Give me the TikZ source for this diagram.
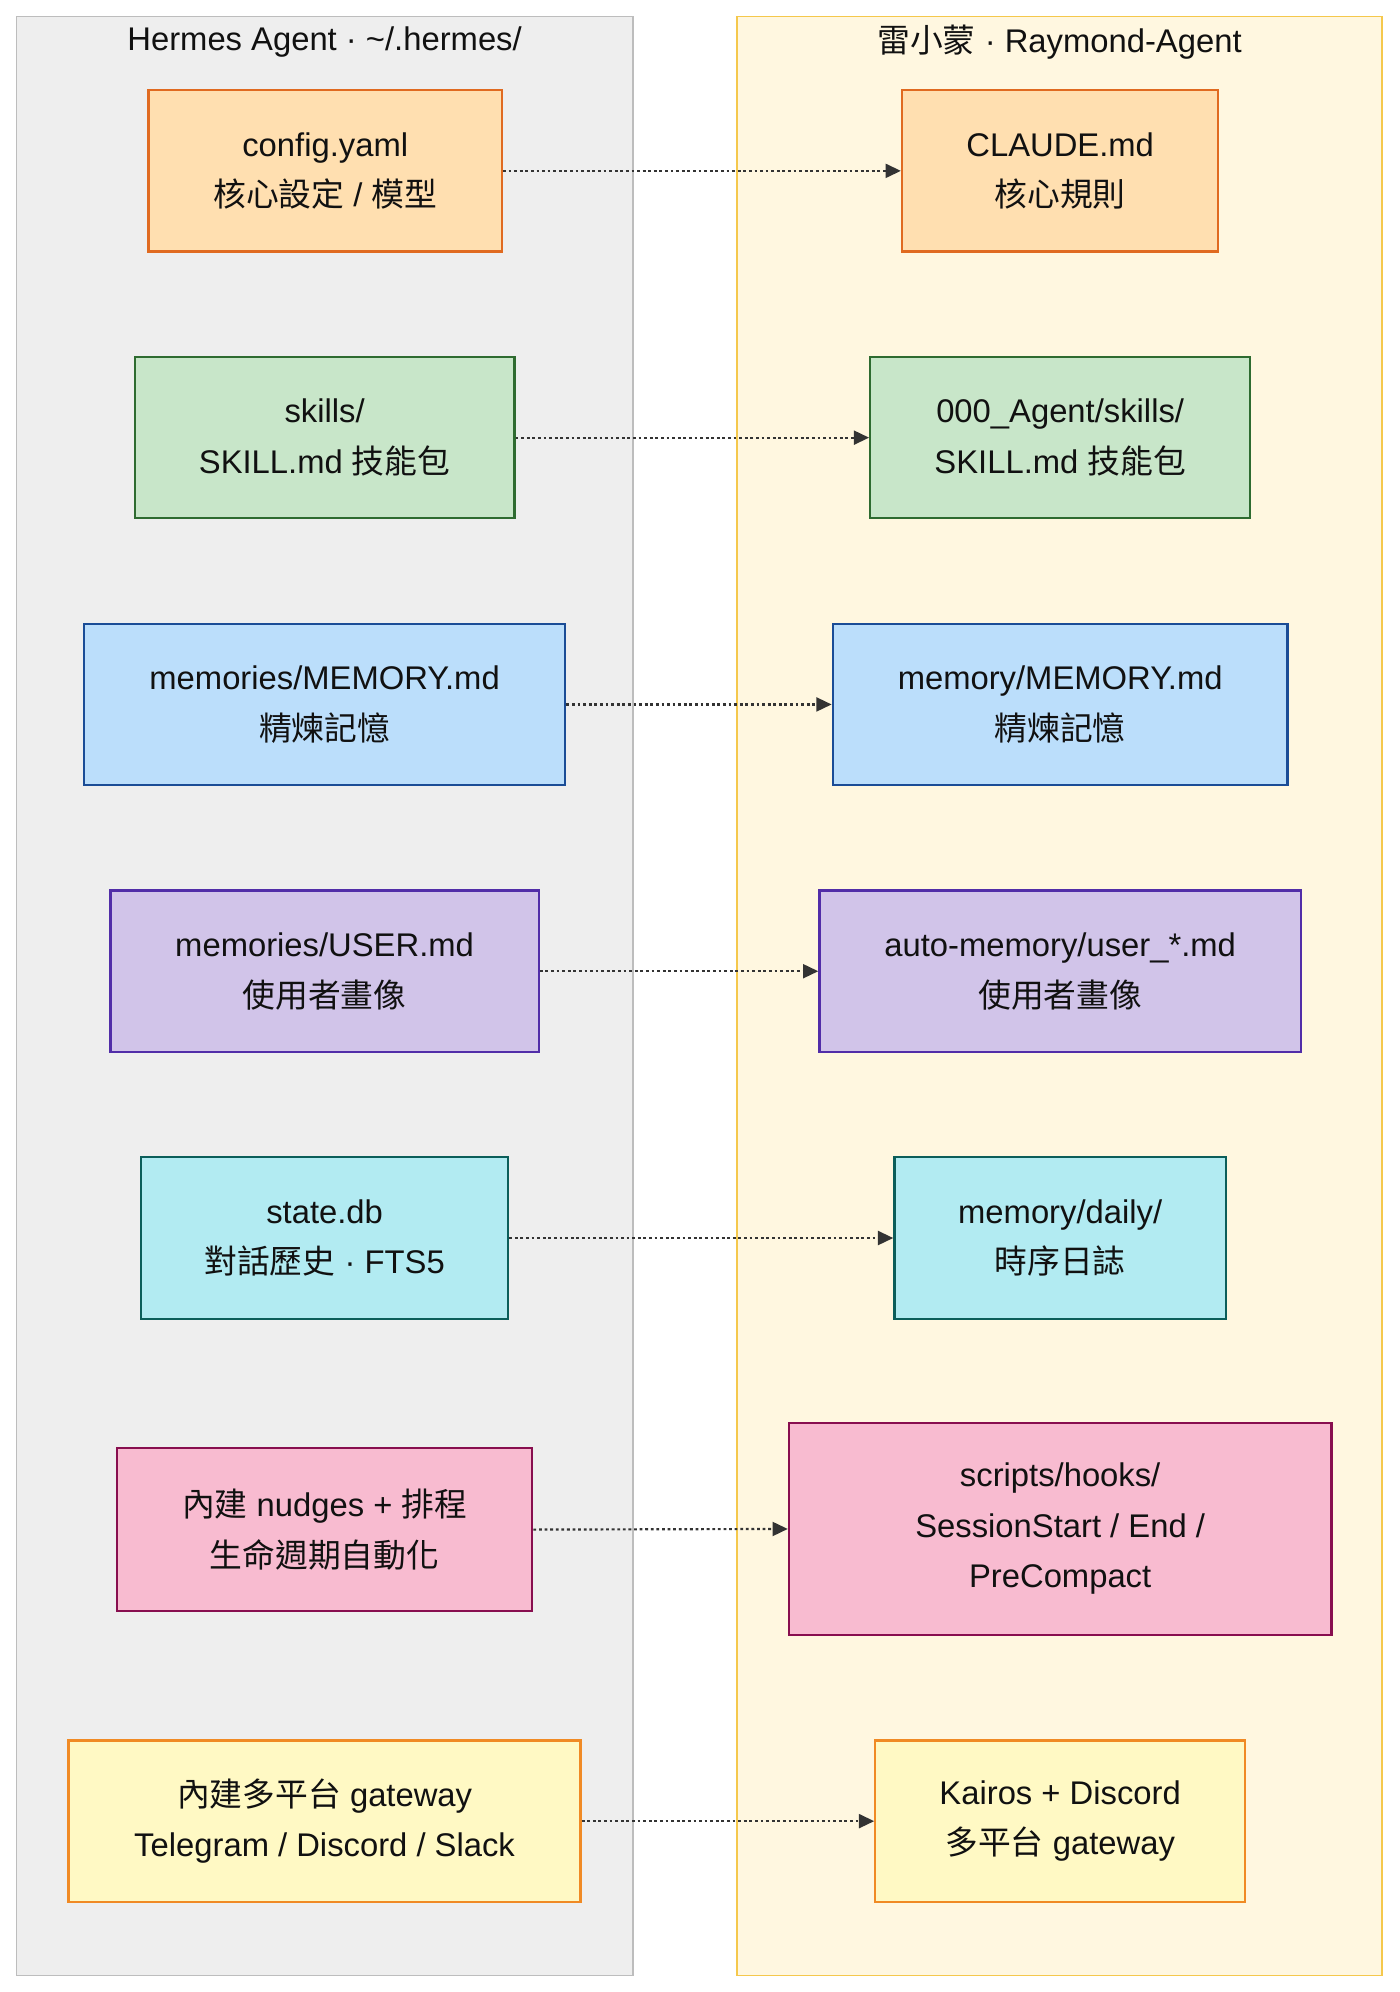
\documentclass[tikz,border=0pt]{standalone}
\usepackage{fontspec}
\setmainfont{Liberation Sans}
\newfontfamily\cjk{Noto Sans CJK TC}
\usetikzlibrary{arrows.meta}
\newcommand{\zh}[1]{{\cjk #1}}
\definecolor{clLfill}{HTML}{EEEEEE}
\definecolor{clLdraw}{HTML}{BDBDBD}
\definecolor{clRfill}{HTML}{FFF7E0}
\definecolor{clRdraw}{HTML}{F5C84C}
\definecolor{orFill}{HTML}{FFDFB0}
\definecolor{orDraw}{HTML}{E06A20}
\definecolor{grFill}{HTML}{C8E6C9}
\definecolor{grDraw}{HTML}{2E6B30}
\definecolor{blFill}{HTML}{BBDEFB}
\definecolor{blDraw}{HTML}{1A4C96}
\definecolor{puFill}{HTML}{D1C4E9}
\definecolor{puDraw}{HTML}{512DA8}
\definecolor{cyFill}{HTML}{B2EBF2}
\definecolor{cyDraw}{HTML}{0B5E5A}
\definecolor{pkFill}{HTML}{F8BBD0}
\definecolor{pkDraw}{HTML}{880E4F}
\definecolor{yeFill}{HTML}{FFF9C4}
\definecolor{yeDraw}{HTML}{F08A24}
\definecolor{txt}{HTML}{111111}
\definecolor{lnk}{HTML}{333333}
\begin{document}
\begin{tikzpicture}[x=1pt,y=-1pt,
  every node/.style={font=\fontsize{25.8}{39.8}\selectfont, text=txt},
  box/.style={rectangle, draw, line width=1.8pt, inner sep=0pt, align=center, minimum height=127pt},
  cluster/.style={line width=1.5pt},
  conn/.style={draw=lnk, line width=1.7pt, dash pattern=on 2.2pt off 2.2pt, -{Triangle[length=12pt,width=11pt]}},
  ttl/.style={inner sep=0pt}]
\useasboundingbox (0,0) rectangle (1102,1568);
% clusters
\filldraw[cluster, fill=clLfill, draw=clLdraw] (13,13) rectangle (498,1555);
\filldraw[cluster, fill=clRfill, draw=clRdraw] (580,13) rectangle (1088,1555);
\node[ttl] (tL) at (255.5,33) {Hermes Agent · \textasciitilde/.hermes/};
\node[ttl] (tR) at (834,33) {\zh{雷小蒙} · Raymond-Agent};
% left nodes
\node[box, fill=orFill, draw=orDraw, minimum width=278pt] (l1) at (256,134.5) {config.yaml\\\zh{核心設定} / \zh{模型}};
\node[box, fill=grFill, draw=grDraw, minimum width=299pt] (l2) at (255.5,344.5) {skills/\\SKILL.md \zh{技能包}};
\node[box, fill=blFill, draw=blDraw, minimum width=379pt] (l3) at (255.5,554.5) {memories/MEMORY.md\\\zh{精煉記憶}};
\node[box, fill=puFill, draw=puDraw, minimum width=337pt] (l4) at (255.5,764.5) {memories/USER.md\\\zh{使用者畫像}};
\node[box, fill=cyFill, draw=cyDraw, minimum width=289pt] (l5) at (255.5,974.5) {state.db\\\zh{對話歷史} · FTS5};
\node[box, fill=pkFill, draw=pkDraw, minimum width=327pt, minimum height=128pt] (l6) at (255.5,1204) {\zh{內建} nudges + \zh{排程}\\\zh{生命週期自動化}};
\node[box, fill=yeFill, draw=yeDraw, minimum width=403pt] (l7) at (255.5,1433.5) {\zh{內建多平台} gateway\\Telegram / Discord / Slack};
% right nodes
\node[box, fill=orFill, draw=orDraw, minimum width=249pt] (r1) at (834.5,134.5) {CLAUDE.md\\\zh{核心規則}};
\node[box, fill=grFill, draw=grDraw, minimum width=299pt] (r2) at (834.5,344.5) {000\_Agent/skills/\\SKILL.md \zh{技能包}};
\node[box, fill=blFill, draw=blDraw, minimum width=358pt] (r3) at (834.5,554.5) {memory/MEMORY.md\\\zh{精煉記憶}};
\node[box, fill=puFill, draw=puDraw, minimum width=379pt] (r4) at (834.5,764.5) {auto-memory/user\_*.md\\\zh{使用者畫像}};
\node[box, fill=cyFill, draw=cyDraw, minimum width=261pt] (r5) at (834.5,974.5) {memory/daily/\\\zh{時序日誌}};
\node[box, fill=pkFill, draw=pkDraw, minimum width=427pt, minimum height=167pt] (r6) at (834.5,1203.5) {scripts/hooks/\\SessionStart / End /\\PreCompact};
\node[box, fill=yeFill, draw=yeDraw, minimum width=291pt] (r7) at (834.5,1433.5) {Kairos + Discord\\\zh{多平台} gateway};
% connectors
\foreach \i in {1,...,7}{\draw[conn] (l\i.east) -- (r\i.west);}
\end{tikzpicture}
\end{document}
